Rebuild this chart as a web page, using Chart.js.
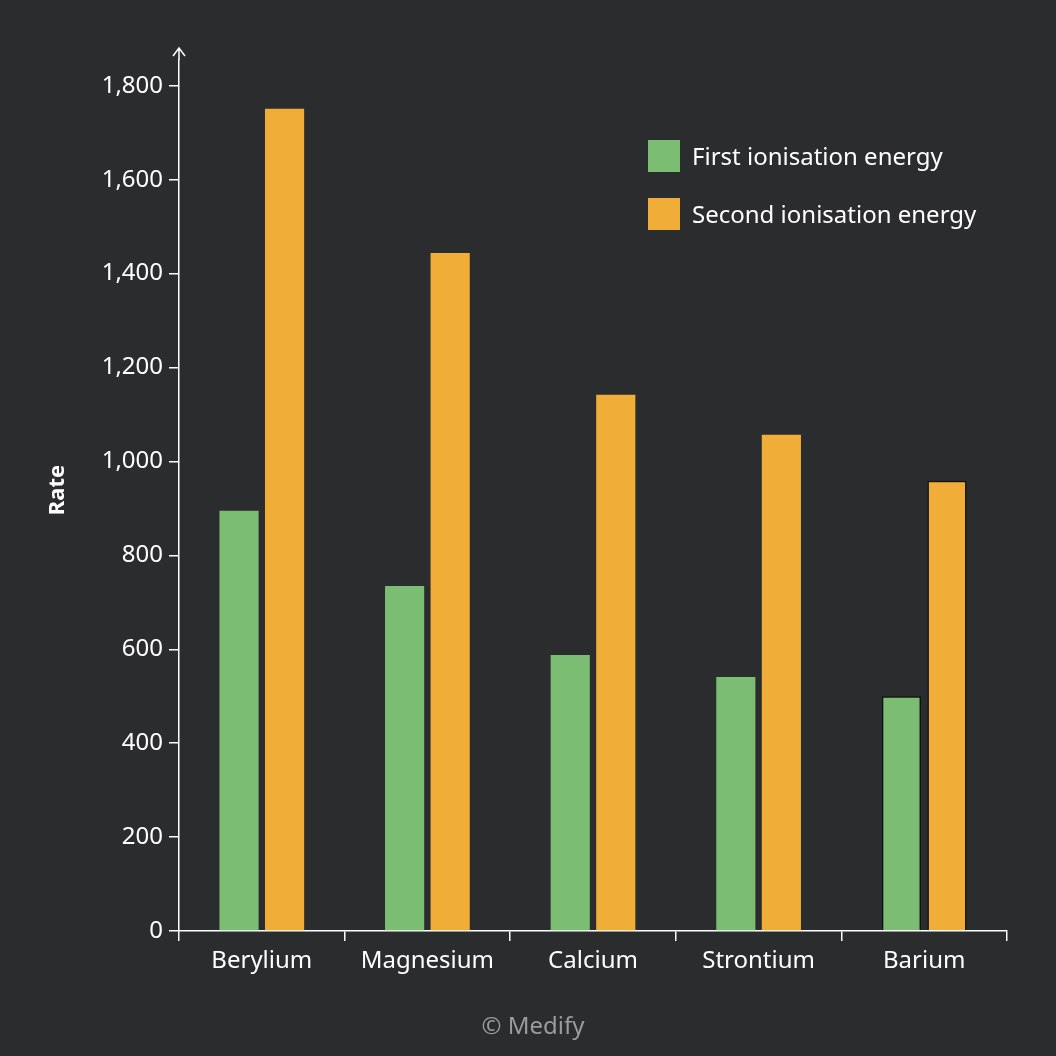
<!DOCTYPE html>
<html>
<head>
<meta charset="utf-8">
<script src="https://cdn.jsdelivr.net/npm/chart.js@4"></script>
<style>
  body { margin: 0; background: #2b2c2e; }
  #wrap { position: relative; width: 1056px; height: 1056px; }
  .leg { position: absolute; left: 648px; font: 24px "Noto Sans", sans-serif; color: #fff; display: flex; align-items: center; }
  .leg span { display: inline-block; width: 32px; height: 32px; margin-right: 12px; }
  #copy { position: absolute; left: 0; width: 1066px; top: 1008px; text-align: center; font: 24px "Noto Sans", sans-serif; color: #9a9b9d; }
</style>
</head>
<body>
<div id="wrap">
  <canvas id="myChart" width="1056" height="1056"></canvas>
  <div class="leg" style="top:139px"><span style="background:#7bbd72"></span>First ionisation energy</div>
  <div class="leg" style="top:197px"><span style="background:#f0ae38"></span>Second ionisation energy</div>
  <div id="copy">© Medify</div>
</div>
<script>
var elements = ["Berylium", "Magnesium", "Calcium", "Strontium", "Barium"];
var firstEnergy = [895, 735, 588, 541, 500];
var secondEnergy = [1751, 1444, 1142, 1057, 959];
var yTicks = [0, 200, 400, 600, 800, 1000, 1200, 1400, 1600, 1800];

var font = { family: "'Noto Sans', sans-serif", size: 24 };

var extras = {
    id: "extras",
    afterDraw: function (chart) {
        var ctx = chart.ctx;
        var x = chart.scales.y.left + chart.scales.y.width;
        var top = chart.chartArea.top;
        ctx.save();
        ctx.strokeStyle = "#fff";
        ctx.lineWidth = 1.5;
        ctx.beginPath();
        ctx.moveTo(x, top);
        ctx.lineTo(x, top - 12);
        ctx.moveTo(x - 6, top - 4);
        ctx.lineTo(x, top - 12);
        ctx.lineTo(x + 6, top - 4);
        ctx.stroke();
        ctx.translate(58, 490);
        ctx.rotate(-Math.PI / 2);
        ctx.fillStyle = "#fff";
        ctx.font = "bold 22px 'Noto Sans', sans-serif";
        ctx.textAlign = "center";
        ctx.textBaseline = "middle";
        ctx.fillText("Rate", 0, 0);
        ctx.restore();
    }
};

new Chart("myChart", {
    type: "bar",
    data: {
        labels: elements,
        datasets: [{
            data: firstEnergy,
            backgroundColor: "#7bbd72",
            borderColor: "#111",
            borderWidth: [0, 0, 0, 0, 1.5],
            categoryPercentage: 0.55,
            barPercentage: 0.86
        }, {
            data: secondEnergy,
            backgroundColor: "#f0ae38",
            borderColor: "#111",
            borderWidth: [0, 0, 0, 0, 1.5],
            categoryPercentage: 0.55,
            barPercentage: 0.86
        }]
    },
    plugins: [extras],
    options: {
        responsive: false,
        animation: false,
        layout: { padding: { left: 0, right: 49, top: 60, bottom: 0 } },
        plugins: { legend: { display: false }, tooltip: { enabled: false } },
        scales: {
            x: {
                offset: true,
                grid: { offset: true, drawOnChartArea: false, color: "#fff", tickLength: 10, lineWidth: 1.5 },
                border: { color: "#fff", width: 1.5 },
                ticks: { color: "#fff", font: font, padding: 6 },
                afterFit: function (s) { s.height = 125; }
            },
            y: {
                min: 0,
                max: 1855,
                grid: { drawOnChartArea: false, color: "#fff", tickLength: 10, lineWidth: 1.5 },
                border: { color: "#fff", width: 1.5 },
                ticks: { color: "#fff", font: font, padding: 6 },
                afterBuildTicks: function (s) { s.ticks = yTicks.map(function (v) { return { value: v }; }); },
                afterFit: function (s) { s.width = 179; }
            }
        }
    }
});
</script>
</body>
</html>
